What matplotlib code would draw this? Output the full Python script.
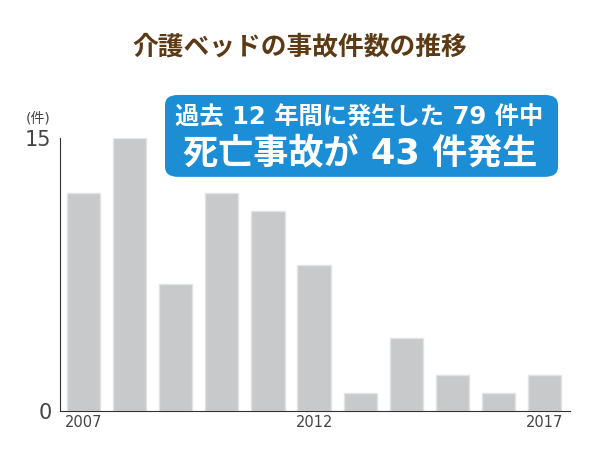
import matplotlib.pyplot as plt
from matplotlib.patches import FancyBboxPatch

years = ['2007', '2008', '2009', '2010', '2011', '2012', '2013', '2014', '2015', '2016', '2017']
counts = [12, 15, 7, 12, 11, 8, 1, 4, 2, 1, 2]
shown_years = ['2007', '2012', '2017']

jp = ['Noto Sans CJK JP', 'DejaVu Sans']
mixed = ['DejaVu Sans', 'Noto Sans CJK JP']

fig = plt.figure(figsize=(6, 4.5), dpi=100)
ax = fig.add_axes([0.1, 0.0867, 0.85, 0.6066])

x = range(len(years))
ax.bar(x, counts, width=0.72, color='#c8c9cb', edgecolor='#e2e3e4', linewidth=1)
ax.set_xlim(-0.51, len(years) - 0.45)
ax.set_ylim(0, 15)

ax.set_xticks([years.index(y) for y in shown_years])
ax.set_xticklabels(shown_years, fontsize=10.5, color='#444444')
ax.set_yticks([0, 15])
ax.set_yticklabels(['0', '15'], fontsize=15, color='#444444')
ax.tick_params(length=0, pad=3)
ax.tick_params(axis='y', pad=6)
for s in ['top', 'right']:
    ax.spines[s].set_visible(False)
ax.spines['left'].set_color('#333333')
ax.spines['bottom'].set_color('#333333')

fig.text(0.063, 0.737, '(件)', fontsize=10, color='#444444', family=mixed, ha='center', va='center')

fig.text(0.5, 0.895, '介護ベッドの事故件数の推移', fontsize=18.5, fontweight='bold',
         color='#5c3a14', family=jp, ha='center', va='center')

box = FancyBboxPatch((0.275, 0.607), 0.655, 0.182, boxstyle='round,pad=0,rounding_size=0.022',
                     transform=fig.transFigure, facecolor='#1c8ed6', edgecolor='none')
fig.patches.append(box)
fig.text(0.598, 0.74, '過去 12 年間に発生した 79 件中', fontsize=17.5, fontweight='bold',
         color='white', family=mixed, ha='center', va='center')
fig.text(0.601, 0.66, '死亡事故が 43 件発生', fontsize=25.3, fontweight='bold',
         color='white', family=mixed, ha='center', va='center')

fig.savefig('out.png', dpi=100)
